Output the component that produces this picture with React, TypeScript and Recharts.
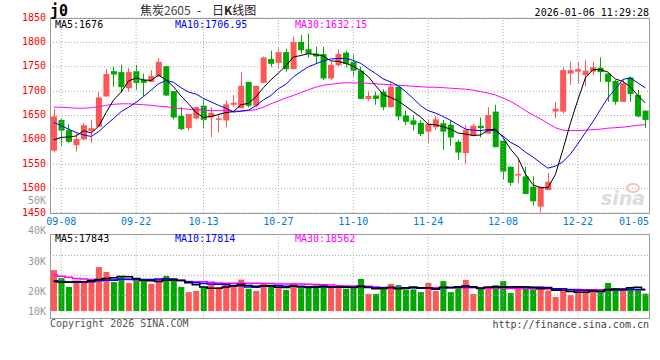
import { ComposedChart, Bar, Line, XAxis, YAxis, CartesianGrid, ReferenceLine } from 'recharts'

// trading days 2025-09-05 .. 2026-01-06
const dates = [
  '09-05', '09-08', '09-09', '09-10', '09-11', '09-12', '09-15', '09-16', '09-17', '09-18', '09-19',
  '09-22', '09-23', '09-24', '09-25', '09-26', '09-29', '09-30',
  '10-09', '10-10', '10-13', '10-14', '10-15', '10-16', '10-17', '10-20', '10-21', '10-22', '10-23', '10-24',
  '10-27', '10-28', '10-29', '10-30', '10-31',
  '11-03', '11-04', '11-05', '11-06', '11-07', '11-10', '11-11', '11-12', '11-13', '11-14',
  '11-17', '11-18', '11-19', '11-20', '11-21', '11-24', '11-25', '11-26', '11-27', '11-28',
  '12-01', '12-02', '12-03', '12-04', '12-05', '12-08', '12-09', '12-10', '12-11', '12-12',
  '12-15', '12-16', '12-17', '12-18', '12-19', '12-22', '12-23', '12-24', '12-25', '12-26',
  '12-29', '12-30', '12-31', '01-05', '01-06',
]

const open = [
  1578, 1641, 1620, 1589, 1601, 1618, 1627, 1689, 1741, 1739, 1706, 1741, 1723, 1719, 1730, 1751, 1700, 1649, 1624, 1644,
  1670, 1646, 1641, 1640, 1672, 1665, 1719, 1670, 1717, 1766, 1758, 1780, 1745, 1801, 1786, 1777, 1776, 1726, 1753, 1779,
  1760, 1742, 1684, 1691, 1699, 1667, 1709, 1650, 1640, 1635, 1617, 1626, 1634, 1631, 1596, 1573, 1608, 1629, 1613, 1658,
  1598, 1545, 1527, 1525, 1504, 1463, 1497, 1658, 1658, 1736, 1740, 1733, 1740, 1748, 1736, 1721, 1678, 1728, 1692, 1660,
]
const high = [
  1663, 1644, 1632, 1613, 1634, 1641, 1698, 1745, 1750, 1754, 1747, 1754, 1736, 1743, 1768, 1752, 1700, 1667, 1654, 1668,
  1683, 1667, 1654, 1681, 1692, 1739, 1719, 1711, 1771, 1783, 1787, 1787, 1812, 1815, 1818, 1791, 1791, 1760, 1786, 1783,
  1775, 1750, 1699, 1699, 1704, 1719, 1709, 1660, 1651, 1640, 1641, 1649, 1641, 1641, 1600, 1631, 1633, 1646, 1667, 1672,
  1598, 1545, 1561, 1545, 1525, 1504, 1532, 1678, 1749, 1760, 1760, 1764, 1760, 1769, 1736, 1723, 1723, 1730, 1702, 1660,
]
const low = [
  1574, 1588, 1594, 1576, 1600, 1594, 1627, 1689, 1709, 1697, 1699, 1702, 1689, 1719, 1730, 1690, 1642, 1620, 1619, 1642,
  1623, 1605, 1615, 1626, 1667, 1665, 1667, 1667, 1716, 1750, 1747, 1740, 1745, 1777, 1769, 1757, 1723, 1723, 1751, 1749,
  1730, 1684, 1680, 1672, 1661, 1667, 1640, 1630, 1619, 1608, 1594, 1620, 1579, 1588, 1559, 1551, 1607, 1605, 1612, 1585,
  1519, 1506, 1511, 1489, 1465, 1451, 1497, 1644, 1654, 1713, 1716, 1709, 1733, 1719, 1678, 1672, 1678, 1678, 1646, 1624,
]
const close = [
  1648, 1619, 1596, 1602, 1630, 1624, 1687, 1735, 1734, 1708, 1739, 1717, 1717, 1731, 1760, 1691, 1646, 1622, 1653, 1667,
  1641, 1655, 1644, 1673, 1676, 1711, 1670, 1711, 1769, 1756, 1780, 1745, 1801, 1784, 1776, 1771, 1726, 1754, 1776, 1756,
  1742, 1684, 1690, 1684, 1667, 1709, 1648, 1637, 1631, 1612, 1633, 1642, 1617, 1605, 1574, 1620, 1629, 1624, 1651, 1585,
  1535, 1512, 1530, 1489, 1474, 1504, 1514, 1664, 1743, 1743, 1745, 1742, 1749, 1739, 1719, 1678, 1716, 1694, 1648, 1641,
]

const ma5 = [
  1600, 1605, 1606, 1608, 1619, 1614, 1628, 1656, 1682, 1698, 1721, 1727, 1723, 1722, 1733, 1723, 1709, 1690, 1674, 1656,
  1646, 1648, 1652, 1656, 1658, 1672, 1675, 1688, 1707, 1723, 1737, 1752, 1770, 1773, 1777, 1775, 1772, 1762, 1761, 1757,
  1751, 1742, 1730, 1711, 1693, 1687, 1680, 1669, 1658, 1647, 1632, 1631, 1627, 1622, 1614, 1612, 1609, 1610, 1620, 1622,
  1605, 1581, 1563, 1530, 1508, 1502, 1502, 1529, 1580, 1634, 1682, 1727, 1744, 1744, 1739, 1725, 1720, 1709, 1691, 1676,
]
const ma10 = [
  1636, 1629, 1622, 1615, 1610, 1607, 1617, 1631, 1644, 1658, 1667, 1677, 1689, 1702, 1715, 1722, 1718, 1707, 1698, 1694,
  1685, 1678, 1671, 1665, 1657, 1659, 1661, 1670, 1682, 1691, 1705, 1714, 1729, 1740, 1750, 1756, 1762, 1766, 1767, 1767,
  1763, 1757, 1746, 1736, 1725, 1719, 1711, 1699, 1685, 1670, 1660, 1655, 1648, 1640, 1631, 1622, 1620, 1619, 1621, 1618,
  1608, 1595, 1587, 1575, 1565, 1553, 1542, 1546, 1555, 1571, 1592, 1615, 1637, 1662, 1686, 1704, 1724, 1727, 1717, 1707,
]
const ma30 = [
  1667, 1667, 1666, 1665, 1665, 1666, 1668, 1671, 1673, 1674, 1674, 1673, 1672, 1671, 1669, 1668, 1666, 1664, 1663, 1662,
  1661, 1660, 1660, 1660, 1659, 1659, 1660, 1662, 1667, 1674, 1680, 1686, 1691, 1697, 1703, 1708, 1712, 1714, 1716, 1717,
  1717, 1717, 1716, 1715, 1714, 1713, 1712, 1711, 1710, 1709, 1708, 1708, 1707, 1706, 1705, 1704, 1702, 1699, 1696, 1692,
  1686, 1679, 1670, 1660, 1651, 1643, 1634, 1625, 1620, 1619, 1619, 1620, 1621, 1622, 1624, 1625, 1626, 1628, 1630, 1631,
]

const volume = [
  24700, 22100, 19200, 20700, 20500, 21700, 25700, 24100, 20800, 22600, 20500, 21500, 21100, 20200, 21500, 22800, 22100, 19200, 17500, 17900,
  19100, 20100, 19100, 19800, 19300, 21600, 18600, 17900, 20300, 19900, 18800, 18200, 20500, 18800, 18800, 19700, 19700, 19200, 18800, 18600,
  18800, 21800, 16900, 16900, 19100, 20200, 19800, 18400, 18400, 17500, 20500, 17900, 21100, 17500, 19500, 21500, 16900, 18700, 19100, 19800,
  21100, 17200, 19500, 18700, 18400, 19500, 18000, 15900, 18800, 16500, 18400, 18100, 17900, 17300, 20500, 18800, 18500, 19200, 18600, 17000,
]
const volMa5 = [
  21000, 20800, 20700, 21000, 20900, 21200, 21600, 22000, 22200, 22600, 22500, 22000, 21300, 21200, 21000, 21400, 21500, 21400, 20600, 19900,
  19200, 18800, 18800, 19200, 19500, 20000, 19700, 19400, 19500, 19600, 19100, 19000, 19500, 19200, 19000, 19200, 19400, 19200, 19200, 19200,
  19000, 19400, 19000, 18600, 18700, 19000, 18600, 18900, 19200, 18900, 18900, 18500, 19100, 18900, 19200, 19500, 19300, 18800, 19100, 19200,
  19100, 19200, 19300, 19200, 19000, 18700, 18800, 18100, 18100, 17700, 17500, 17500, 17900, 17600, 18400, 18500, 18500, 18900, 19100, 18400,
]
const volMa10 = [
  21200, 21000, 20800, 20700, 20700, 20900, 21200, 21400, 21400, 21700, 21700, 21700, 21600, 21600, 21800, 21900, 21700, 21300, 20900, 20600,
  20300, 20200, 20100, 20000, 19700, 19600, 19200, 19100, 19400, 19500, 19600, 19400, 19400, 19400, 19300, 19100, 19200, 19300, 19100, 19100,
  19100, 19300, 19100, 18900, 18900, 19000, 18800, 18800, 18900, 18800, 18900, 18500, 18900, 19100, 19200, 19200, 19100, 18700, 19100, 19300,
  19300, 19200, 19200, 19200, 19100, 19000, 19000, 18600, 18600, 18300, 18100, 18100, 18000, 17900, 18100, 18200, 18200, 18400, 18400, 18400,
]
const volMa30 = [
  23000, 22700, 22400, 22000, 21800, 21600, 21500, 21500, 21600, 21600, 21600, 21500, 21500, 21500, 21500, 21500, 21400, 21200, 21000, 20900,
  20900, 20700, 20500, 20400, 20400, 20400, 20400, 20400, 20300, 20300, 20200, 20200, 20200, 20200, 20100, 20000, 19900, 19800, 19600, 19500,
  19500, 19500, 19400, 19200, 19000, 18900, 18900, 18900, 18900, 18900, 18900, 18900, 18900, 18900, 18900, 18900, 18900, 18900, 18800, 18800,
  18800, 18700, 18700, 18700, 18600, 18500, 18500, 18400, 18400, 18400, 18400, 18300, 18300, 18300, 18300, 18300, 18300, 18300, 18300, 18300,
]

const priceTicks = [1450, 1500, 1550, 1600, 1650, 1700, 1750, 1800, 1850]
const dateTicks = ['09-08', '09-22', '10-13', '10-27', '11-10', '11-24', '12-08', '12-22', '01-05']
const gridDates = dateTicks.slice(0, 8)
const volGridValues = [16500, 23000, 29500]
const VOL_BASE = 11300

const RED = '#ff5757'
const GREEN = '#00a800'
const GRID = '#aaaaaa'
const MONO = "'DejaVu Sans Mono', monospace"

const rows = dates.map((date, i) => ({
  date,
  range: [low[i], high[i]],
  open: open[i], high: high[i], low: low[i], close: close[i],
  ma5: ma5[i], ma10: ma10[i], ma30: ma30[i],
  vol: [VOL_BASE, volume[i]],
  volMa5: volMa5[i], volMa10: volMa10[i], volMa30: volMa30[i],
}))

function Candle(props: any) {
  const { x, y, width, height, payload } = props
  const top0 = Math.min(y, y + height)
  const h = Math.abs(height)
  const color = payload.close >= payload.open ? RED : GREEN
  const span = payload.high - payload.low || 1
  const py = (v: number) => top0 + ((payload.high - v) / span) * h
  const bTop = py(Math.max(payload.open, payload.close))
  const bBot = py(Math.min(payload.open, payload.close))
  const cx = Math.floor(x + width / 2) + 0.5
  return (
    <g>
      <line x1={cx} x2={cx} y1={top0} y2={top0 + h} stroke={color} strokeWidth={1} />
      <rect x={x} y={bTop} width={width} height={Math.max(1, bBot - bTop)} fill={color} />
    </g>
  )
}

function VolBar(props: any) {
  const { x, y, width, height, payload } = props
  const color = payload.close >= payload.open ? RED : GREEN
  return <rect x={x} y={Math.min(y, y + height)} width={width} height={Math.abs(height)} fill={color} />
}

function PriceTick(props: any) {
  const { x, y, payload } = props
  return (
    <text x={x} y={y} dy={2.5} textAnchor="end" fill="#ff0000" fontSize={10} fontFamily={MONO}>
      {payload.value}
    </text>
  )
}

function DateTick(props: any) {
  const { x, y, payload } = props
  return (
    <text x={Math.min(x, 634)} y={y} dy={11.5} textAnchor="middle" fill="#0078d7" fontSize={10} fontFamily={MONO}>
      {payload.value}
    </text>
  )
}

function Overlay() {
  const t = { fontFamily: MONO, fontSize: 10 }
  return (
    <svg width={660} height={360} style={{ position: 'absolute', left: 0, top: 0, pointerEvents: 'none' }}>
      <rect x={50.5} y={18.5} width={599} height={195} fill="none" stroke="#999" />
      <rect x={50.5} y={234.5} width={599} height={84} fill="none" stroke="#999" />

      <text x={50} y={16} fontFamily={MONO} fontSize={15} fontWeight="bold" fill="#000">j0</text>
      <text y={15} fontFamily="'Noto Sans CJK SC', sans-serif" fontSize={12} fill="#222">
        <tspan x={140}>焦炭</tspan>
        <tspan fill="#444">2605</tspan>
        <tspan x={197}>-</tspan>
        <tspan x={212}>日</tspan>
        <tspan fontWeight="bold">K</tspan>
        <tspan>线图</tspan>
      </text>
      <text x={649} y={15.5} textAnchor="end" {...t} fill="#000">2026-01-06 11:29:28</text>

      <text x={55} y={27.5} {...t} fill="#000">MA5:1676</text>
      <text x={175} y={27.5} {...t} fill="#0000ff">MA10:1706.95</text>
      <text x={295} y={27.5} {...t} fill="#ff00ff">MA30:1632.15</text>

      <text x={46} y={204} textAnchor="end" {...t} fill="#999">50K</text>
      <text x={46} y={233.5} textAnchor="end" {...t} fill="#999">40K</text>
      <text x={46} y={264.5} textAnchor="end" {...t} fill="#999">30K</text>
      <text x={46} y={294.5} textAnchor="end" {...t} fill="#999">20K</text>
      <text x={46} y={314.5} textAnchor="end" {...t} fill="#999">10K</text>

      <text x={55} y={242} {...t} fill="#000">MA5:17843</text>
      <text x={175} y={242} {...t} fill="#0000ff">MA10:17814</text>
      <text x={295} y={242} {...t} fill="#ff00ff">MA30:18562</text>

      <text x={50} y={327} {...t} fill="#555">Copyright 2026 SINA.COM</text>
      <text x={649} y={327.5} textAnchor="end" {...t} fill="#444">http://finance.sina.com.cn</text>

      <ellipse cx={633} cy={188} rx={6} ry={4} fill="none" stroke="#f2c4c4" strokeWidth={2} />
      <text x={601} y={205} fontFamily="'DejaVu Sans', sans-serif" fontSize={19} fontStyle="italic" fontWeight="bold" fill="#dcdcdc">sina</text>
    </svg>
  )
}

export default function App() {
  return (
    <div style={{ position: 'absolute', left: 0, top: 0, width: 660, height: 360, background: '#fff' }}>
      <div style={{ position: 'absolute', left: 0, top: 0 }}>
        <ComposedChart width={660} height={230} data={rows} margin={{ top: 18, right: 11, bottom: 0, left: 0 }}>
          <CartesianGrid vertical={false} stroke={GRID} strokeDasharray="1 2" />
          <XAxis dataKey="date" ticks={dateTicks} interval={0} height={17} axisLine={false} tickLine={false}
            tickSize={0} tickMargin={0} tick={<DateTick />} />
          <YAxis domain={[1450, 1850]} ticks={priceTicks} interval={0} width={50} axisLine={false} tickLine={false}
            tickSize={0} tickMargin={4} tick={<PriceTick />} allowDataOverflow />
          {gridDates.map(d => (
            <ReferenceLine key={d} x={d} stroke={GRID} strokeDasharray="1 2" />
          ))}
          <Bar dataKey="range" barSize={6} shape={<Candle />} isAnimationActive={false} />
          <Line dataKey="ma30" stroke="#ff00ff" strokeWidth={1} dot={false} isAnimationActive={false} />
          <Line dataKey="ma10" stroke="#0000ff" strokeWidth={1} dot={false} isAnimationActive={false} />
          <Line dataKey="ma5" stroke="#000000" strokeWidth={1} dot={false} isAnimationActive={false} />
        </ComposedChart>
      </div>
      <div style={{ position: 'absolute', left: 0, top: 230 }}>
        <ComposedChart width={660} height={100} data={rows} margin={{ top: 4.7, right: 11, bottom: 11.3, left: 50 }}>
          <XAxis dataKey="date" hide />
          <YAxis domain={[8800, 36300]} hide allowDataOverflow />
          {gridDates.map(d => (
            <ReferenceLine key={d} x={d} stroke={GRID} strokeDasharray="1 2" />
          ))}
          {volGridValues.map(v => (
            <ReferenceLine key={v} y={v} stroke={GRID} strokeDasharray="1 2" />
          ))}
          <Bar dataKey="vol" barSize={6} shape={<VolBar />} isAnimationActive={false} />
          <Line type="step" dataKey="volMa30" stroke="#ff00ff" strokeWidth={1.5} dot={false} isAnimationActive={false} />
          <Line type="step" dataKey="volMa10" stroke="#0000ff" strokeWidth={1.5} dot={false} isAnimationActive={false} />
          <Line type="step" dataKey="volMa5" stroke="#000000" strokeWidth={1.5} dot={false} isAnimationActive={false} />
        </ComposedChart>
      </div>
      <Overlay />
    </div>
  )
}
